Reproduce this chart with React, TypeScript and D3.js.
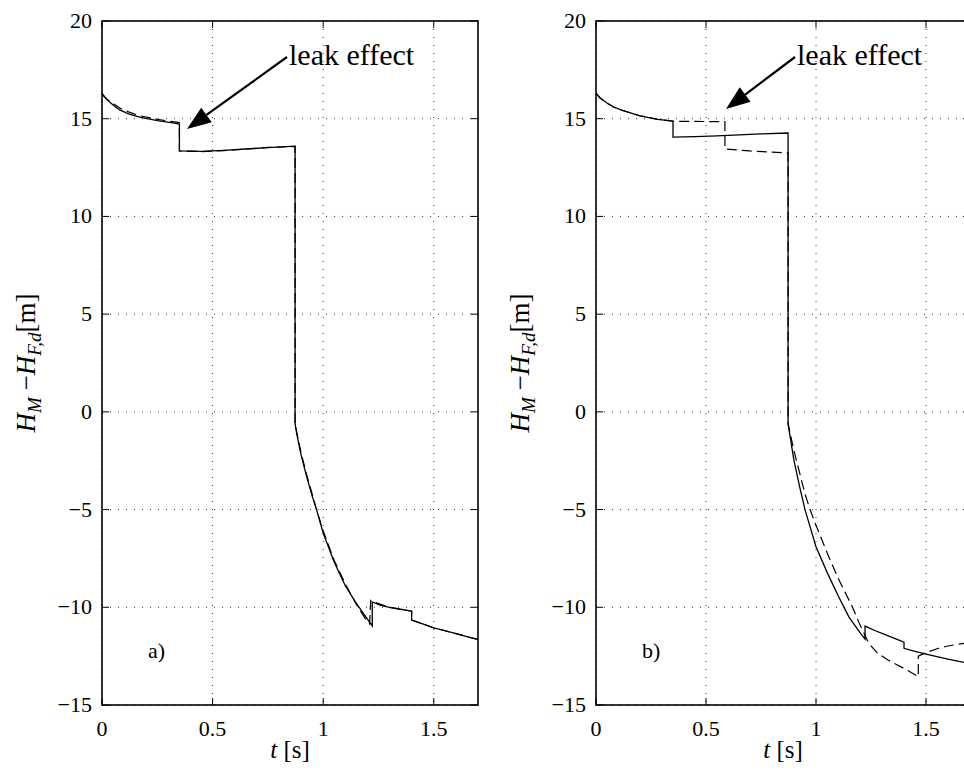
import React from "react";
import * as d3 from "d3";

const xTicks = [0, 0.5, 1, 1.5];
const yTicks = [-15, -10, -5, 0, 5, 10, 15, 20];
const xTickLabels = ["0", "0.5", "1", "1.5"];
const yTickLabels = ["\u221215", "\u221210", "\u22125", "0", "5", "10", "15", "20"];

// Panel a) solid
const aSolidT = [0, 0.02, 0.05, 0.08, 0.12, 0.17, 0.25, 0.32, 0.35, 0.35, 0.45, 0.55, 0.65, 0.75, 0.873, 0.873, 0.88, 0.9, 0.925, 0.95, 0.97, 1.0, 1.05, 1.1, 1.15, 1.2, 1.222, 1.222, 1.26, 1.3, 1.35, 1.4, 1.4, 1.45, 1.5, 1.55, 1.6, 1.65, 1.7];
const aSolidH = [16.3, 16.0, 15.7, 15.45, 15.25, 15.08, 14.9, 14.79, 14.73, 13.35, 13.33, 13.38, 13.45, 13.52, 13.6, -0.6, -1.1, -2.2, -3.3, -4.3, -5.0, -6.2, -7.7, -8.9, -9.8, -10.6, -10.95, -9.73, -9.9, -10.0, -10.1, -10.2, -10.65, -10.85, -11.05, -11.2, -11.35, -11.5, -11.65];
// Panel a) dashed
const aDashT = [0, 0.02, 0.05, 0.08, 0.12, 0.17, 0.25, 0.32, 0.35, 0.35, 0.45, 0.55, 0.65, 0.75, 0.873, 0.873, 0.88, 0.9, 0.925, 0.95, 0.97, 1.0, 1.05, 1.1, 1.15, 1.2, 1.21, 1.215, 1.26, 1.3, 1.35, 1.4, 1.4, 1.45, 1.5, 1.55, 1.6, 1.65, 1.7];
const aDashH = [16.25, 16.02, 15.78, 15.55, 15.35, 15.15, 14.97, 14.85, 14.8, 13.35, 13.32, 13.37, 13.45, 13.53, 13.58, -0.6, -1.0, -2.1, -3.2, -4.2, -5.0, -6.1, -7.6, -8.8, -9.85, -10.75, -10.85, -9.65, -9.85, -10.0, -10.1, -10.2, -10.65, -10.85, -11.05, -11.2, -11.35, -11.5, -11.65];
// Panel b) solid
const bSolidT = [0, 0.02, 0.05, 0.08, 0.12, 0.2, 0.28, 0.35, 0.35, 0.45, 0.55, 0.65, 0.75, 0.873, 0.873, 0.88, 0.9, 0.925, 0.95, 1.0, 1.05, 1.1, 1.15, 1.2, 1.223, 1.223, 1.27, 1.32, 1.36, 1.4, 1.4, 1.45, 1.5, 1.55, 1.6, 1.65, 1.7];
const bSolidH = [16.3, 16.05, 15.8, 15.6, 15.43, 15.15, 14.97, 14.88, 14.06, 14.08, 14.12, 14.17, 14.22, 14.27, -0.6, -1.1, -2.5, -3.8, -5.0, -6.9, -8.2, -9.4, -10.5, -11.3, -11.63, -10.96, -11.2, -11.42, -11.6, -11.78, -12.1, -12.25, -12.4, -12.53, -12.65, -12.77, -12.87];
// Panel b) dashed
const bDashT = [0, 0.02, 0.05, 0.08, 0.12, 0.2, 0.28, 0.35, 0.45, 0.586, 0.586, 0.7, 0.873, 0.873, 0.9, 0.925, 0.95, 0.973, 1.0, 1.05, 1.1, 1.164, 1.2, 1.24, 1.28, 1.327, 1.37, 1.405, 1.465, 1.465, 1.5, 1.55, 1.6, 1.64, 1.7];
const bDashH = [16.3, 16.05, 15.8, 15.6, 15.43, 15.15, 14.97, 14.87, 14.86, 14.85, 13.45, 13.35, 13.25, -0.6, -2.0, -3.1, -4.2, -5.0, -5.8, -7.2, -8.5, -9.95, -10.9, -11.85, -12.35, -12.7, -12.95, -13.16, -13.55, -12.5, -12.32, -12.12, -11.98, -11.9, -11.8];

const panelLabels = ["a)", "b)"];
const annotation = "leak effect";

const FONT = "'Times New Roman', Times, 'Liberation Serif', 'DejaVu Serif', serif";
const TOP = 21;
const BOTTOM = 705;

type PanelProps = {
  x0: number;
  x1: number;
  solidT: number[];
  solidH: number[];
  dashT: number[];
  dashH: number[];
  label: string;
  arrowFrom: [number, number];
  arrowTo: [number, number];
  textX: number;
  clipId: string;
};

function Arrow({ from, to }: { from: [number, number]; to: [number, number] }) {
  const dx = to[0] - from[0];
  const dy = to[1] - from[1];
  const len = Math.sqrt(dx * dx + dy * dy);
  const ux = dx / len;
  const uy = dy / len;
  const headL = 24;
  const headW = 9;
  const bx = to[0] - ux * headL;
  const by = to[1] - uy * headL;
  const px = -uy;
  const py = ux;
  return (
    <g>
      <line x1={from[0]} y1={from[1]} x2={bx} y2={by} stroke="#000" strokeWidth={2.2} />
      <polygon
        points={`${to[0]},${to[1]} ${bx + px * headW},${by + py * headW} ${bx - px * headW},${by - py * headW}`}
        fill="#000"
      />
    </g>
  );
}

function Panel(p: PanelProps) {
  const x = d3.scaleLinear().domain([0, 1.7]).range([p.x0, p.x1]);
  const y = d3.scaleLinear().domain([-15, 20]).range([BOTTOM, TOP]);
  const line = d3
    .line<[number, number]>()
    .x((d) => x(d[0]))
    .y((d) => y(d[1]));
  const solid = p.solidT.map((t, i) => [t, p.solidH[i]] as [number, number]);
  const dash = p.dashT.map((t, i) => [t, p.dashH[i]] as [number, number]);
  const tickLen = 7;
  const cx = (p.x0 + p.x1) / 2;
  const ts = { fontFamily: FONT };
  return (
    <g>
      <defs>
        <clipPath id={p.clipId}>
          <rect x={p.x0} y={TOP} width={p.x1 - p.x0} height={BOTTOM - TOP} />
        </clipPath>
      </defs>
      {xTicks.map((t) => (
        <line key={"gx" + t} x1={x(t)} x2={x(t)} y1={TOP} y2={BOTTOM} stroke="#333" strokeWidth={1} strokeDasharray="1,7" />
      ))}
      {yTicks.map((t) => (
        <line key={"gy" + t} x1={p.x0} x2={p.x1} y1={y(t)} y2={y(t)} stroke="#333" strokeWidth={1} strokeDasharray="1,7" />
      ))}
      <g clipPath={`url(#${p.clipId})`}>
        <path d={line(dash) || ""} fill="none" stroke="#000" strokeWidth={1.2} strokeDasharray="10,5" />
        <path d={line(solid) || ""} fill="none" stroke="#000" strokeWidth={1.3} />
      </g>
      {xTicks.map((t) => (
        <g key={"tx" + t}>
          <line x1={x(t)} x2={x(t)} y1={BOTTOM} y2={BOTTOM - tickLen} stroke="#000" strokeWidth={1} />
          <line x1={x(t)} x2={x(t)} y1={TOP} y2={TOP + tickLen} stroke="#000" strokeWidth={1} />
        </g>
      ))}
      {yTicks.map((t) => (
        <g key={"ty" + t}>
          <line x1={p.x0} x2={p.x0 + tickLen} y1={y(t)} y2={y(t)} stroke="#000" strokeWidth={1} />
          <line x1={p.x1} x2={p.x1 - tickLen} y1={y(t)} y2={y(t)} stroke="#000" strokeWidth={1} />
        </g>
      ))}
      <rect x={p.x0} y={TOP} width={p.x1 - p.x0} height={BOTTOM - TOP} fill="none" stroke="#000" strokeWidth={1.6} />
      {xTicks.map((t, i) => (
        <text key={"lx" + t} x={x(t)} y={736} textAnchor="middle" style={ts} fontSize={22}>
          {xTickLabels[i]}
        </text>
      ))}
      {yTicks.map((t, i) => (
        <text key={"ly" + t} x={p.x0 - 10} y={y(t) + 7} textAnchor="end" style={ts} fontSize={22}>
          {yTickLabels[i]}
        </text>
      ))}
      <text x={cx} y={758} textAnchor="middle" style={ts} fontSize={25}>
        <tspan fontStyle="italic">t</tspan>
        <tspan> [s]</tspan>
      </text>
      <text transform={`translate(${p.x0 - 67},${(TOP + BOTTOM) / 2}) rotate(-90)`} textAnchor="middle" style={ts} fontSize={27}>
        <tspan fontStyle="italic">H</tspan>
        <tspan fontStyle="italic" fontSize={19} dy={6}>M</tspan>
        <tspan dy={-6}> {"\u2212"}</tspan>
        <tspan fontStyle="italic">H</tspan>
        <tspan fontStyle="italic" fontSize={19} dy={6}>F,d</tspan>
        <tspan dy={-6}>[m]</tspan>
      </text>
      <text x={p.x0 + 46} y={658} style={ts} fontSize={22}>
        {p.label}
      </text>
      <text x={p.textX} y={65} style={ts} fontSize={30}>
        {annotation}
      </text>
      <Arrow from={p.arrowFrom} to={p.arrowTo} />
    </g>
  );
}

export default function App() {
  return (
    <svg
      width={964}
      height={770}
      style={{ position: "absolute", left: 0, top: 0, background: "#fff", fontFamily: FONT }}
    >
      <rect x={0} y={0} width={964} height={770} fill="#fff" />
      <Panel
        x0={102}
        x1={478}
        solidT={aSolidT}
        solidH={aSolidH}
        dashT={aDashT}
        dashH={aDashH}
        label={panelLabels[0]}
        arrowFrom={[287, 57]}
        arrowTo={[187, 129]}
        textX={289}
        clipId="clipA"
      />
      <Panel
        x0={596}
        x1={970}
        solidT={bSolidT}
        solidH={bSolidH}
        dashT={bDashT}
        dashH={bDashH}
        label={panelLabels[1]}
        arrowFrom={[795, 57]}
        arrowTo={[726, 109]}
        textX={797}
        clipId="clipB"
      />
    </svg>
  );
}
